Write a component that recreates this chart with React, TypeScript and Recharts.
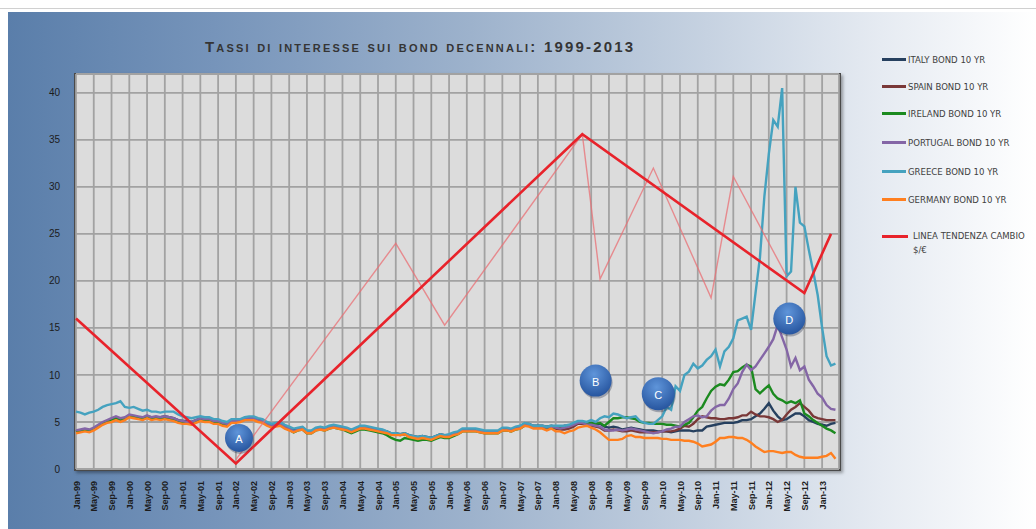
import { LineChart, Line, XAxis, YAxis, CartesianGrid, ReferenceDot } from "recharts";

// monthly 10y yields, Jan-99 .. Apr-13 (172 points)
const italy = [
  4.0, 4.1, 4.2, 4.1, 4.3, 4.6, 4.9, 5.1, 5.3, 5.5, 5.3, 5.4,
  5.7, 5.6, 5.5, 5.4, 5.6, 5.5, 5.5, 5.5, 5.6, 5.5, 5.4, 5.2,
  5.1, 5.1, 5.0, 5.2, 5.4, 5.3, 5.3, 5.1, 5.1, 4.9, 4.8, 5.1,
  5.2, 5.2, 5.4, 5.4, 5.4, 5.3, 5.2, 4.9, 4.7, 4.8, 4.8, 4.6,
  4.3, 4.1, 4.3, 4.4, 4.0, 4.0, 4.3, 4.4, 4.3, 4.5, 4.6, 4.5,
  4.4, 4.3, 4.1, 4.3, 4.5, 4.5, 4.4, 4.3, 4.2, 4.1, 4.0, 3.8,
  3.8, 3.7, 3.8, 3.6, 3.5, 3.4, 3.5, 3.4, 3.3, 3.5, 3.7, 3.6,
  3.6, 3.8, 3.9, 4.2, 4.2, 4.2, 4.2, 4.1, 4.0, 4.0, 4.0, 4.0,
  4.3, 4.3, 4.2, 4.4, 4.5, 4.8, 4.8, 4.6, 4.6, 4.6, 4.5, 4.6,
  4.5, 4.4, 4.6, 4.6, 4.8, 5.0, 5.0, 4.9, 4.9, 4.8, 4.8, 4.5,
  4.4, 4.5, 4.4, 4.2, 4.3, 4.4, 4.3, 4.2, 4.1, 4.1, 4.1, 4.0,
  4.0, 4.0, 3.9, 4.0, 4.1, 4.1, 4.1, 4.0, 4.1, 4.1, 4.5, 4.6,
  4.7, 4.8, 4.9, 4.9, 4.9, 5.0, 5.2, 5.2, 5.3, 5.6, 5.9, 6.4,
  7.0, 6.2, 5.6, 5.2, 5.3, 5.6, 5.9, 5.9, 5.6, 5.2, 5.0, 4.8,
  4.7, 4.6, 4.8, 4.9,
];

const spain = [
  3.9, 4.0, 4.1, 4.0, 4.2, 4.5, 4.8, 5.0, 5.2, 5.4, 5.2, 5.3,
  5.6, 5.5, 5.4, 5.3, 5.5, 5.4, 5.4, 5.4, 5.5, 5.4, 5.3, 5.1,
  5.0, 5.0, 4.9, 5.1, 5.3, 5.2, 5.2, 5.0, 5.0, 4.8, 4.7, 5.0,
  5.0, 5.1, 5.3, 5.3, 5.3, 5.1, 5.0, 4.7, 4.5, 4.6, 4.7, 4.4,
  4.2, 4.0, 4.2, 4.3, 3.9, 3.9, 4.2, 4.3, 4.2, 4.4, 4.5, 4.4,
  4.3, 4.2, 4.0, 4.2, 4.4, 4.4, 4.3, 4.2, 4.1, 4.0, 3.9, 3.7,
  3.7, 3.6, 3.7, 3.5, 3.4, 3.2, 3.3, 3.3, 3.2, 3.4, 3.6, 3.5,
  3.5, 3.7, 3.8, 4.1, 4.1, 4.1, 4.1, 4.0, 3.9, 3.9, 3.9, 3.9,
  4.2, 4.2, 4.1, 4.3, 4.4, 4.7, 4.7, 4.5, 4.4, 4.4, 4.3, 4.4,
  4.3, 4.2, 4.2, 4.3, 4.5, 4.8, 4.8, 4.7, 4.6, 4.5, 4.4, 4.1,
  4.1, 4.2, 4.1, 4.0, 4.0, 4.1, 4.0, 3.9, 3.9, 3.9, 3.9, 3.9,
  4.0, 4.0, 4.0, 4.1, 4.3, 4.6, 4.5, 4.8, 5.3, 5.6, 5.5, 5.4,
  5.4, 5.3, 5.3, 5.4, 5.4, 5.5, 5.7, 5.7, 6.1, 5.8, 5.6, 5.6,
  5.5, 5.3, 5.0, 5.2, 5.8, 6.3, 6.6, 7.0, 6.6, 6.2, 5.6, 5.4,
  5.3, 5.2, 5.2, 5.2,
];

const ireland = [
  4.0, 4.1, 4.2, 4.1, 4.3, 4.6, 4.9, 5.1, 5.2, 5.4, 5.2, 5.3,
  5.6, 5.5, 5.4, 5.3, 5.5, 5.4, 5.4, 5.4, 5.5, 5.3, 5.2, 5.0,
  5.0, 4.9, 4.8, 5.1, 5.3, 5.2, 5.2, 5.0, 5.0, 4.8, 4.7, 5.0,
  5.0, 5.1, 5.3, 5.3, 5.3, 5.1, 5.0, 4.7, 4.5, 4.6, 4.7, 4.4,
  4.2, 3.9, 4.1, 4.2, 3.8, 3.8, 4.1, 4.2, 4.1, 4.3, 4.4, 4.3,
  4.2, 4.0, 3.8, 4.0, 4.2, 4.2, 4.1, 4.0, 3.9, 3.8, 3.6, 3.3,
  3.1, 3.0, 3.3, 3.2, 3.1, 3.0, 3.1, 3.1, 3.0, 3.2, 3.4, 3.3,
  3.3, 3.5, 3.7, 4.0, 4.0, 4.0, 4.0, 3.9, 3.8, 3.8, 3.8, 3.8,
  4.1, 4.1, 4.0, 4.2, 4.3, 4.6, 4.6, 4.4, 4.4, 4.4, 4.3, 4.4,
  4.4, 4.4, 4.5, 4.6, 4.8, 5.0, 4.9, 4.8, 4.9, 4.8, 4.9, 4.6,
  5.0, 5.4, 5.4, 5.5, 5.5, 5.4, 5.3, 5.0, 4.9, 4.9, 4.8, 4.8,
  4.8, 4.7, 4.7, 4.6, 4.5, 4.7, 4.9, 5.5, 6.2, 6.6, 7.5, 8.3,
  8.75, 9.0, 8.9, 9.5, 10.3, 10.4, 10.8, 11.1, 10.9, 8.5, 8.05, 8.5,
  8.9, 8.0, 7.5, 7.3, 7.0, 7.2, 7.0, 7.3, 5.9, 5.6, 5.2, 4.9,
  4.6, 4.3, 4.1, 3.8,
];

const portugal = [
  4.1, 4.2, 4.3, 4.2, 4.4, 4.7, 5.0, 5.2, 5.4, 5.6, 5.4, 5.5,
  5.8, 5.7, 5.6, 5.5, 5.7, 5.5, 5.6, 5.5, 5.6, 5.5, 5.4, 5.2,
  5.1, 5.0, 5.0, 5.2, 5.4, 5.3, 5.3, 5.1, 5.1, 4.9, 4.8, 5.1,
  5.1, 5.2, 5.4, 5.4, 5.4, 5.2, 5.1, 4.8, 4.6, 4.7, 4.8, 4.5,
  4.3, 4.0, 4.2, 4.3, 3.9, 3.9, 4.2, 4.3, 4.2, 4.4, 4.5, 4.4,
  4.3, 4.2, 4.0, 4.2, 4.4, 4.4, 4.3, 4.2, 4.1, 4.0, 3.9, 3.7,
  3.7, 3.6, 3.7, 3.5, 3.4, 3.3, 3.4, 3.3, 3.2, 3.4, 3.6, 3.5,
  3.5, 3.7, 3.8, 4.1, 4.1, 4.1, 4.1, 4.0, 3.9, 3.9, 3.9, 3.9,
  4.2, 4.2, 4.1, 4.3, 4.4, 4.7, 4.7, 4.5, 4.5, 4.5, 4.4, 4.5,
  4.4, 4.3, 4.4, 4.5, 4.7, 4.9, 4.9, 4.7, 4.7, 4.6, 4.5, 4.2,
  4.1, 4.1, 4.2, 4.1, 4.2, 4.3, 4.2, 4.1, 4.0, 3.9, 3.8, 3.9,
  4.0, 4.2, 4.3, 4.5, 4.5, 5.0, 5.3, 5.6, 5.7, 5.5, 5.6, 6.2,
  6.6, 6.8, 6.8, 7.5, 8.5, 9.1, 10.3, 11.1, 10.5, 10.9, 11.6, 12.3,
  13.0, 13.8, 15.3, 14.0, 12.7, 10.9, 11.8, 10.5, 10.9, 9.5, 8.8, 8.0,
  7.6, 6.8, 6.4, 6.3,
];

const greece = [
  6.1, 6.0, 5.8, 6.0, 6.1, 6.3, 6.6, 6.8, 6.9, 7.0, 7.2, 6.6,
  6.5, 6.6, 6.4, 6.2, 6.3, 6.1, 6.1, 6.0, 6.1, 6.1, 6.1, 5.8,
  5.6, 5.5, 5.4, 5.5, 5.6, 5.5, 5.5, 5.3, 5.3, 5.1, 5.0, 5.3,
  5.3, 5.3, 5.5, 5.6, 5.6, 5.4, 5.3, 5.0, 4.8, 4.9, 5.0, 4.7,
  4.5, 4.3, 4.4, 4.5, 4.1, 4.1, 4.4, 4.5, 4.4, 4.6, 4.7, 4.6,
  4.5, 4.4, 4.2, 4.4, 4.6, 4.6, 4.5, 4.4, 4.3, 4.2, 4.0, 3.8,
  3.8, 3.7, 3.8, 3.6, 3.5, 3.4, 3.5, 3.4, 3.3, 3.5, 3.7, 3.6,
  3.7, 3.9, 4.0, 4.3, 4.3, 4.3, 4.3, 4.2, 4.1, 4.1, 4.1, 4.1,
  4.4, 4.4, 4.3, 4.5, 4.6, 4.9, 4.8, 4.6, 4.6, 4.6, 4.5, 4.6,
  4.6, 4.6, 4.6, 4.7, 4.9, 5.1, 5.1, 5.0, 5.2, 5.0, 5.4, 5.6,
  5.5, 5.9, 5.8, 5.6, 5.4, 5.5, 5.6, 5.1, 4.9, 4.8, 4.8, 5.2,
  5.6, 6.6, 6.3, 8.8, 8.3, 10.0, 10.35, 11.2, 10.7, 11.0, 11.6, 12.0,
  12.7, 10.9, 12.5, 13.0, 13.9, 15.8, 16.0, 16.2, 14.8, 18.7, 22.5, 29.0,
  33.5, 37.1, 36.4, 40.5, 20.5, 21.0, 30.0, 26.2, 25.8, 23.3, 21.0, 18.5,
  15.0, 12.0, 11.0, 11.2,
];

const germany = [
  3.8, 3.9, 4.0, 3.9, 4.1, 4.4, 4.7, 4.9, 5.0, 5.2, 5.0, 5.2,
  5.5, 5.4, 5.3, 5.2, 5.4, 5.2, 5.3, 5.2, 5.3, 5.2, 5.1, 4.9,
  4.8, 4.8, 4.7, 4.9, 5.1, 5.0, 5.0, 4.8, 4.8, 4.6, 4.5, 4.9,
  4.9, 5.0, 5.2, 5.2, 5.2, 5.0, 4.9, 4.6, 4.4, 4.5, 4.6, 4.3,
  4.1, 3.9, 4.1, 4.2, 3.8, 3.8, 4.1, 4.2, 4.1, 4.3, 4.4, 4.3,
  4.2, 4.1, 3.9, 4.1, 4.3, 4.3, 4.2, 4.1, 4.0, 3.9, 3.8, 3.6,
  3.6, 3.6, 3.7, 3.4, 3.3, 3.2, 3.3, 3.2, 3.1, 3.3, 3.5, 3.4,
  3.4, 3.6, 3.7, 4.0, 4.0, 4.0, 4.0, 3.9, 3.8, 3.8, 3.8, 3.8,
  4.1, 4.1, 4.0, 4.2, 4.3, 4.6, 4.5, 4.3, 4.3, 4.3, 4.1, 4.3,
  4.0, 4.0, 3.8, 4.0, 4.1, 4.4, 4.5, 4.6, 4.4, 4.2, 3.9, 3.5,
  3.1, 3.1, 3.1, 3.2, 3.5, 3.6, 3.4, 3.4, 3.3, 3.3, 3.3, 3.3,
  3.2, 3.2, 3.1, 3.1, 3.1, 3.0, 3.0, 2.9, 2.7, 2.4, 2.5, 2.6,
  2.9, 3.3, 3.3, 3.4, 3.4, 3.3, 3.3, 3.1, 2.8, 2.4, 2.1, 1.8,
  1.9, 1.9, 1.8, 1.7, 1.8, 1.8, 1.5, 1.3, 1.2, 1.2, 1.2, 1.2,
  1.3, 1.4, 1.7, 1.1,
];

// linea tendenza cambio $/€ (month index, value)
const trendIdx = [0, 36, 114, 164, 170];
const trendVal = [16.0, 0.6, 35.6, 18.7, 25.0];

// linea sottile a zig-zag
const zigIdx = [36, 72, 83, 114, 118, 130, 143, 148, 160];
const zigVal = [1.0, 24.0, 15.3, 35.6, 20.2, 32.0, 18.2, 31.1, 20.5];

// cerchi A-D
const bubbleLabels = ["A", "B", "C", "D"];
const bubbleIdx = [36.7, 117.0, 131.1, 160.6];
const bubbleVal = [3.3, 9.4, 8.0, 16.0];
const bubbleR = [14, 16, 16.5, 16];

const xTickLabels = [
  "Jan-99", "May-99", "Sep-99", "Jan-00", "May-00", "Sep-00", "Jan-01", "May-01", "Sep-01",
  "Jan-02", "May-02", "Sep-02", "Jan-03", "May-03", "Sep-03", "Jan-04", "May-04", "Sep-04",
  "Jan-05", "May-05", "Sep-05", "Jan-06", "May-06", "Sep-06", "Jan-07", "May-07", "Sep-07",
  "Jan-08", "May-08", "Sep-08", "Jan-09", "May-09", "Sep-09", "Jan-10", "May-10", "Sep-10",
  "Jan-11", "May-11", "Sep-11", "Jan-12", "May-12", "Sep-12", "Jan-13",
];
const yTicks = [0, 5, 10, 15, 20, 25, 30, 35, 40];

const seriesKeys = ["italy", "spain", "ireland", "portugal", "greece", "germany"];
const seriesNames = [
  "ITALY BOND 10 YR",
  "SPAIN BOND 10 YR",
  "IRELAND BOND 10 YR",
  "PORTUGAL BOND 10 YR",
  "GREECE BOND 10 YR",
  "GERMANY BOND 10 YR",
];
const seriesColors = ["#26405f", "#7a3838", "#1b8a1f", "#8466a6", "#45a2bf", "#ff7f1f"];
const trendColor = "#e8232b";

const values = [italy, spain, ireland, portugal, greece, germany];
const data = italy.map((_, i) => {
  const row: Record<string, number> = { i };
  seriesKeys.forEach((k, s) => (row[k] = values[s][i]));
  return row;
});
const trendData = trendIdx.map((i, k) => ({ i, v: trendVal[k] }));
const zigData = zigIdx.map((i, k) => ({ i, v: zigVal[k] }));
const xTicks = xTickLabels.map((_, k) => k * 4);

const legendFont = '"Liberation Sans Narrow", "DejaVu Sans Condensed", sans-serif';

const XTick = (props: any) => {
  const { x, y, payload } = props;
  const label = xTickLabels[xTicks.indexOf(payload.value)];
  return (
    <text
      transform={`translate(${x},${y}) rotate(-90)`}
      textAnchor="end"
      dx={-4}
      dy={3.5}
      fontSize={9}
      fontWeight="bold"
      fill="#1c1c1c"
      fontFamily="Liberation Sans, Arial, sans-serif"
    >
      {label}
    </text>
  );
};

const makeBubble = (label: string) => (props: any) => {
  const { cx, cy, r } = props;
  const id = `bub-${label}`;
  return (
    <g>
      <defs>
        <radialGradient id={id} cx="45%" cy="30%" r="75%">
          <stop offset="0%" stopColor="#5f95da" />
          <stop offset="100%" stopColor="#23519b" />
        </radialGradient>
      </defs>
      <circle cx={cx + 1} cy={cy + 2} r={r} fill="rgba(20,30,60,0.3)" />
      <circle cx={cx} cy={cy} r={r} fill={`url(#${id})`} />
      <text
        x={cx}
        y={cy + 5}
        textAnchor="middle"
        fill="#ffffff"
        fontSize={11}
        fontFamily="Liberation Sans, Arial, sans-serif"
      >
        {label}
      </text>
    </g>
  );
};

const legendTops = [52, 79, 106, 135, 164, 192];

export default function App() {
  return (
    <div
      style={{
        position: "fixed",
        left: 0,
        top: 0,
        width: 1036,
        height: 529,
        background: "#ffffff",
        overflow: "hidden",
        fontFamily: "Liberation Sans, Arial, sans-serif",
      }}
    >
      <div style={{ position: "absolute", left: 0, top: 8, width: 1036, height: 1, background: "#d0d0d0" }} />
      <div
        style={{
          position: "absolute",
          left: 8,
          top: 12,
          width: 1028,
          height: 517,
          background:
            "linear-gradient(90deg, #5a7eaa 0%, #7694ba 20%, #9db2cc 45%, #c6d2e1 68%, #e6ebf2 85%, #ffffff 100%)",
        }}
      />
      <div
        style={{
          position: "absolute",
          left: 205,
          top: 38,
          fontSize: 15,
          fontWeight: "bold",
          fontVariant: "small-caps",
          letterSpacing: 2.2,
          color: "#353535",
          whiteSpace: "nowrap",
        }}
      >
        Tassi di interesse sui bond decennali: 1999-2013
      </div>
      <div
        style={{
          position: "absolute",
          left: 74,
          top: 73,
          width: 767,
          height: 398,
          boxSizing: "border-box",
          background: "#dcdcdc",
          border: "2px solid #4a4a4a",
          boxShadow: "2px 2px 3px rgba(0,0,0,0.35)",
        }}
      />
      <div style={{ position: "absolute", left: 0, top: 0 }}>
        <LineChart width={1036} height={529} data={data} margin={{ top: 74, right: 197, bottom: 0, left: 36 }}>
          <CartesianGrid stroke="#a2a2a2" strokeWidth={1.8} />
          <XAxis
            dataKey="i"
            type="number"
            domain={[0, 171.8]}
            ticks={xTicks}
            interval={0}
            height={60}
            axisLine={false}
            tickLine={false}
            tick={<XTick />}
          />
          <YAxis
            type="number"
            domain={[0, 42]}
            ticks={yTicks}
            width={40}
            axisLine={false}
            tickLine={false}
            tickMargin={10}
            tick={{ fontSize: 10, fill: "#1c1c1c" }}
          />
          {seriesKeys.map((k, s) => (
            <Line
              key={k}
              dataKey={k}
              name={seriesNames[s]}
              type="linear"
              stroke={seriesColors[s]}
              strokeWidth={2.4}
              dot={false}
              isAnimationActive={false}
            />
          ))}
          <Line
            data={zigData}
            dataKey="v"
            type="linear"
            stroke="#ea6f74"
            strokeOpacity={0.75}
            strokeWidth={1.4}
            dot={false}
            legendType="none"
            isAnimationActive={false}
          />
          <Line
            data={trendData}
            dataKey="v"
            name="LINEA TENDENZA CAMBIO $/€"
            type="linear"
            stroke={trendColor}
            strokeWidth={2.6}
            dot={false}
            isAnimationActive={false}
          />
          {bubbleLabels.map((b, k) => (
            <ReferenceDot
              key={b}
              x={bubbleIdx[k]}
              y={bubbleVal[k]}
              r={bubbleR[k]}
              shape={makeBubble(b)}
            />
          ))}
        </LineChart>
      </div>
      {seriesNames.map((n, s) => (
        <div
          key={n}
          style={{ position: "absolute", left: 882, top: legendTops[s], height: 14, display: "flex", alignItems: "center" }}
        >
          <div style={{ width: 24, height: 3, background: seriesColors[s] }} />
          <span
            style={{
              marginLeft: 2,
              fontFamily: legendFont,
              fontSize: 9.5,
              color: "#404040",
              whiteSpace: "nowrap",
            }}
          >
            {n}
          </span>
        </div>
      ))}
      <div style={{ position: "absolute", left: 882, top: 229, display: "flex", alignItems: "flex-start" }}>
        <div style={{ width: 26, height: 3, background: trendColor, marginTop: 6 }} />
        <span
          style={{
            marginLeft: 5,
            fontFamily: legendFont,
            fontSize: 9.5,
            lineHeight: "14px",
            color: "#404040",
            whiteSpace: "nowrap",
          }}
        >
          LINEA TENDENZA CAMBIO
          <br />
          $/€
        </span>
      </div>
    </div>
  );
}
